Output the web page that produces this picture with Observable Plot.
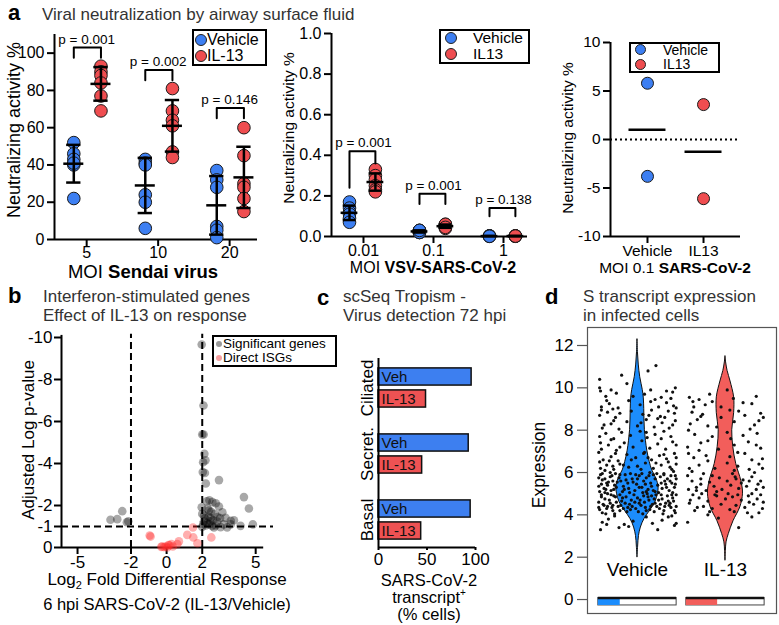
<!DOCTYPE html>
<html><head><meta charset="utf-8">
<script src="https://cdn.jsdelivr.net/npm/d3@7"></script>
<script src="https://cdn.jsdelivr.net/npm/@observablehq/plot@0.6"></script>
<style>
body{margin:0;background:#fff;}
#fig{position:relative;width:779px;height:625px;overflow:hidden;font-family:"Liberation Sans",Arial,Helvetica,sans-serif;color:#000;background:#fff;}
.t{position:absolute;white-space:nowrap;line-height:1;}
.legend{position:absolute;border:2px solid #000;background:#fff;box-sizing:border-box;}
.legend .dot{position:absolute;border-radius:50%;box-sizing:border-box;}
.legend .lab{position:absolute;white-space:nowrap;line-height:1;transform:translateY(-50%);}
</style></head><body><div id="fig"></div>
<script>
// ---------- DATA ----------
// Panel a (left): Sendai virus
const sendaiMOI = ["5", "10", "20"];
const sendaiVehicle = [[52, 46, 43, 40, 41, 22], [43, 41, 40, 24, 20, 6], [37, 32, 28, 7, 5, 1]];
const sendaiIL13 = [[93, 90, 88, 84, 77, 69], [81, 69, 64, 61, 47, 44], [60, 45, 30, 28, 22, 15]];
const sendaiP = ["p = 0.001", "p = 0.002", "p = 0.146"];
const sendaiBracketTop = [103, 91, 70.5];
const sendaiBracketLegs = [[97.5, 97.5], [85.5, 85.5], [65, 65]];

// Panel a (middle): VSV-SARS-CoV-2
const vsvMOI = ["0.01", "0.1", "1"];
const vsvVehicle = [[0.17, 0.14, 0.12, 0.11, 0.09, 0.07], [0.03, 0.02, 0.02, 0.03, 0.02, 0.03], [0.003, 0.002, 0.001, 0.002, 0.003, 0.001]];
const vsvIL13 = [[0.33, 0.30, 0.28, 0.25, 0.23, 0.22], [0.06, 0.05, 0.04, 0.05, 0.06, 0.045], [0.002, 0.003, 0.001, 0.002, 0.003, 0.002]];
const vsvP = ["p = 0.001", "p = 0.001", "p = 0.138"];
const vsvBracketTop = [0.42, 0.21, 0.14];
const vsvBracketLegs = [[0.24, 0.36], [0.16, 0.16], [0.10, 0.10]];

// Panel a (right): SARS-CoV-2
const covGroups = ["Vehicle", "IL13"];
const covValues = [[5.8, -3.8], [3.6, -6.1]];

// Panel b: volcano [log2 fold differential response, adjusted log p]
const significantGenes = [
  [-3.15, -1.32], [-2.77, -1.35], [-2.49, -1.73], [-2.23, -1.2], [-2.15, -1.25],
  [1.97, -9.67], [2.07, -6.76], [2.0, -5.38], [2.08, -5.38], [2.12, -4.46], [2.05, -4.06], [2.18, -4.15],
  [2.03, -3.59], [2.15, -3.55], [2.2, -3.05], [2.94, -3.21],
  [1.97, -1.92], [2.1, -1.52], [2.38, -1.76], [2.57, -2.16], [2.76, -2.11], [2.94, -1.95], [3.13, -1.68],
  [3.31, -1.41], [3.6, -1.27], [3.78, -1.3], [2.66, -0.95], [3.03, -0.97], [3.4, -0.96], [2.0, -0.98],
  [2.28, -1.16], [2.47, -1.4], [2.85, -1.24], [2.05, -1.1], [2.2, -1.05], [2.4, -1.1], [2.55, -1.02],
  [2.75, -1.05], [2.1, -1.25], [2.45, -1.25], [3.0, -1.4], [2.3, -1.85], [2.5, -1.7], [2.7, -1.6],
  [2.85, -1.45], [2.15, -1.4], [2.35, -1.45], [2.6, -1.3], [3.2, -1.1], [4.15, -1.03], [4.34, -2.4],
  [4.62, -1.86], [4.84, -1.1], [3.6, -1.1], [2.0, -1.6], [2.25, -2.2], [2.4, -2.25]
];
const directISGs = [
  [-0.9, -0.52], [-0.95, -0.57], [-0.25, -0.05], [-0.15, -0.02], [-0.05, -0.05], [0.04, 0.0],
  [0.15, -0.1], [0.27, -0.16], [0.35, -0.05], [0.6, -0.16], [0.69, -0.29], [1.16, -0.6],
  [1.5, -0.48], [1.48, -0.95], [1.73, -0.2], [2.51, -0.48], [0.1, -0.12], [-0.3, -0.03]
];

// Panel c: tropism
const cellTypes = ["Ciliated", "Secret.", "Basal"];
const tropismVeh = [96, 93, 95];
const tropismIL13 = [49, 45, 44];
const tropismLabels = ["Veh", "IL-13"];

// Panel d: violin
const dGroups = ["Vehicle", "IL-13"];
const vehicleDensity = [[2.0, 0], [2.5, 0.03], [3.0, 0.07], [3.4, 0.16], [3.8, 0.33], [4.2, 0.6], [4.6, 0.85], [5.0, 0.97], [5.3, 1.0], [5.7, 0.9], [6.1, 0.7], [6.5, 0.58], [7.0, 0.47], [7.5, 0.4], [8.0, 0.35], [8.5, 0.33], [9.0, 0.32], [9.5, 0.3], [9.9, 0.25], [10.5, 0.13], [11.1, 0.06], [11.7, 0.02], [12.3, 0]];
const il13Density = [[1.85, 0], [2.3, 0.02], [2.7, 0.05], [3.1, 0.16], [3.7, 0.38], [4.35, 0.7], [5.0, 0.83], [5.6, 0.75], [6.4, 0.51], [7.2, 0.37], [8.0, 0.32], [8.8, 0.41], [9.55, 0.41], [10.3, 0.24], [10.8, 0.1], [11.2, 0.03], [11.5, 0]];
const vehiclePoints = [
  [-0.42,3.3],[0.23,3.3],[0.44,3.6],[-0.21,3.4],[-0.05,3.7],[0.1,3.9],[-0.33,3.8],[0.35,3.9],[-0.15,3.55],
  [-0.40,4.1],[-0.35,4.3],[-0.28,4.2],[-0.22,4.4],[-0.12,4.15],[-0.02,4.3],[0.06,4.05],[0.14,4.25],[0.22,4.4],[0.3,4.2],[0.38,4.35],[0.43,4.1],
  [-0.44,4.6],[-0.37,4.75],[-0.31,4.55],[-0.25,4.85],[-0.18,4.65],[-0.09,4.5],[0.0,4.8],[0.08,4.6],[0.16,4.9],[0.24,4.7],[0.32,4.55],[0.40,4.8],
  [-0.41,4.95],[-0.34,5.0],[-0.27,4.9],[-0.2,4.95],[-0.13,4.85],[-0.04,4.95],[0.03,4.7],[0.11,5.0],[0.19,4.75],[0.27,4.95],[0.35,4.65],[0.44,4.95],
  [-0.38,4.45],[-0.29,4.35],[-0.06,4.4],[0.09,4.35],[0.26,4.5],[0.36,4.45],[-0.16,4.3],[0.19,4.15],
  [-0.43,5.1],[-0.36,5.2],[-0.30,5.15],[-0.24,5.3],[-0.17,5.1],[-0.1,5.25],[-0.03,5.15],[0.05,5.3],[0.12,5.2],[0.2,5.1],[0.28,5.25],[0.36,5.15],[0.42,5.3],
  [-0.41,5.45],[-0.33,5.55],[-0.26,5.4],[-0.19,5.6],[-0.11,5.5],[-0.01,5.45],[0.07,5.6],[0.15,5.5],[0.23,5.4],[0.31,5.6],[0.39,5.5],
  [-0.44,5.75],[-0.37,5.7],[-0.29,5.85],[-0.21,5.75],[-0.14,5.9],[-0.06,5.7],[0.02,5.85],[0.1,5.75],[0.18,5.9],[0.26,5.8],[0.34,5.7],[0.43,5.85],
  [-0.4,5.95],[-0.31,6.0],[-0.08,5.95],[0.14,6.0],[0.3,5.95],[0.41,6.05],
  [-0.42,6.2],[-0.35,6.35],[-0.27,6.15],[-0.2,6.4],[-0.1,6.25],[0.0,6.3],[0.09,6.45],[0.18,6.2],[0.27,6.35],[0.37,6.25],[0.44,6.4],
  [-0.39,6.6],[-0.3,6.75],[-0.22,6.55],[-0.12,6.85],[-0.02,6.7],[0.07,6.9],[0.16,6.6],[0.25,6.8],[0.33,6.65],[0.42,6.9],[-0.44,6.95],
  [-0.41,7.1],[-0.33,7.3],[-0.24,7.05],[-0.15,7.4],[-0.05,7.2],[0.05,7.5],[0.14,7.15],[0.23,7.35],[0.32,7.1],[0.4,7.45],
  [-0.43,7.7],[-0.36,7.85],[-0.27,7.6],[-0.18,7.9],[-0.08,7.75],[0.03,7.95],[0.11,7.65],[0.2,7.8],[0.3,7.95],[0.38,7.7],
  [-0.4,8.1],[-0.3,8.3],[-0.21,8.05],[-0.12,8.4],[0.0,8.2],[0.1,8.5],[0.19,8.15],[0.28,8.35],[0.36,8.1],[0.43,8.45],
  [-0.43,8.7],[-0.34,8.85],[-0.25,8.6],[-0.07,8.9],[0.06,8.75],[0.16,8.95],[0.26,8.65],[0.35,8.9],[0.42,8.8],
  [-0.41,9.1],[-0.32,9.25],[-0.22,9.05],[-0.1,9.4],[0.03,9.2],[0.15,9.35],[0.24,9.1],[0.33,9.3],[0.41,9.15],
  [-0.36,9.6],[-0.24,9.75],[0.08,9.7],[0.27,9.55],[0.4,9.8],
  [-0.43,10.4],[-0.43,10.0],[0.43,10.0],[-0.12,10.2],[-0.18,10.6],[0.12,10.8],[0.21,11.05],
  [-0.43,4.25],[-0.39,4.5],[-0.36,4.05],[-0.32,4.7],[-0.28,4.45],[-0.24,4.6],[-0.2,4.2],[-0.17,4.8],[-0.14,4.55],[-0.11,4.35],[-0.07,4.7],[-0.03,4.6],[0.01,4.15],[0.04,4.45],[0.07,4.9],[0.1,4.2],[0.13,4.7],[0.17,4.5],[0.21,4.95],[0.25,4.3],[0.28,4.75],[0.31,4.4],[0.34,4.9],[0.37,4.55],[0.41,4.65],[0.44,4.4],[-0.41,4.85],[-0.34,4.4],[-0.26,4.05],[-0.19,4.45],[-0.08,4.25],[0.02,4.55],[0.12,4.85],[0.2,4.55],[0.29,4.05],[0.39,4.95],[-0.44,4.35],[-0.3,4.95],[0.15,4.4],[0.42,4.2],
  [-0.44,5.35],[-0.4,5.65],[-0.37,5.05],[-0.34,5.4],[-0.31,5.8],[-0.27,5.2],[-0.23,5.55],[-0.2,5.9],[-0.16,5.35],[-0.13,5.65],[-0.09,5.05],[-0.05,5.55],[-0.02,5.9],[0.02,5.3],[0.06,5.05],[0.09,5.45],[0.13,5.85],[0.16,5.35],[0.2,5.7],[0.24,5.05],[0.27,5.5],[0.3,5.9],[0.33,5.3],[0.37,5.6],[0.4,5.05],[0.43,5.45],[-0.42,5.9],[-0.35,5.5],[-0.25,5.95],[-0.15,5.2],[0.0,5.7],[0.1,5.1],[0.22,5.95],[0.32,5.45],[0.44,5.7],[-0.38,5.25],[-0.28,5.6],[0.05,5.95],[0.18,5.15],[0.38,5.85],
  [-0.43,6.5],[-0.37,6.1],[-0.32,6.55],[-0.25,6.9],[-0.16,6.35],[-0.07,6.6],[0.04,6.15],[0.12,6.7],[0.21,6.45],[0.3,6.85],[0.39,6.15],[0.44,6.7],[-0.28,6.3],[0.08,6.95],[0.35,6.5],
  [-0.42,7.4],[-0.3,7.55],[-0.2,7.2],[0.1,7.9],[0.27,7.6],[0.44,7.3],[-0.38,8.25],[-0.27,8.45],[0.04,8.35],[0.23,8.55],[0.4,8.25],[-0.41,8.95],[-0.2,8.8],[0.13,8.7],[0.31,8.6],[-0.35,9.4],[-0.28,9.0],[0.2,9.45],[0.38,9.5],[0.44,9.05],[-0.42,9.85],[-0.3,9.9],[0.15,9.9],[0.33,9.85],[-0.05,9.6],
  [-0.4,3.65],[0.42,3.5],[-0.26,3.95],[0.28,3.75],[-0.1,3.45],[0.17,3.6],[0.39,3.95],[-0.35,3.55]
];
const il13Points = [
  [-0.43,3.65],[0.15,3.4],[0.3,3.9],[-0.2,4.0],[0.38,4.1],
  [-0.35,4.2],[-0.25,4.4],[-0.15,4.3],[-0.05,4.5],[0.05,4.25],[0.12,4.45],[0.22,4.35],[0.32,4.5],[0.42,4.3],
  [-0.4,4.7],[-0.3,4.8],[-0.2,4.65],[-0.1,4.9],[0.0,4.75],[0.08,4.85],[0.18,4.7],[0.26,4.9],[0.36,4.75],
  [-0.37,4.95],[-0.27,5.0],[-0.12,4.95],[0.03,5.0],[0.14,4.95],[0.3,5.0],
  [-0.42,5.2],[-0.33,5.3],[-0.22,5.15],[-0.13,5.35],[-0.04,5.2],[0.06,5.4],[0.15,5.25],[0.24,5.35],[0.35,5.2],[0.43,5.3],
  [-0.38,5.6],[-0.28,5.7],[-0.18,5.55],[-0.07,5.75],[0.02,5.6],[0.11,5.8],[0.2,5.65],[0.3,5.8],[0.4,5.6],
  [-0.25,5.95],[0.08,5.95],[0.33,6.0],
  [-0.41,6.2],[-0.3,6.35],[-0.12,6.2],[0.02,6.45],[0.14,6.3],[0.27,6.15],[0.38,6.4],[-0.36,6.7],[-0.22,6.8],[0.05,6.75],[0.22,6.9],[0.42,6.65],
  [-0.43,7.2],[-0.28,7.4],[-0.08,7.1],[0.1,7.3],[0.26,7.45],[0.4,7.15],[-0.35,7.8],[-0.15,7.7],[0.02,7.9],[0.2,7.75],[0.36,7.85],
  [-0.4,8.3],[-0.32,8.5],[-0.2,8.2],[-0.05,8.6],[0.1,8.4],[0.22,8.7],[0.33,8.25],[0.43,8.6],[-0.38,8.85],[-0.26,8.75],[0.15,8.9],[0.4,8.8],
  [-0.37,9.35],[-0.3,9.45],[-0.23,9.2],[-0.05,9.1],[0.09,9.5],[0.3,9.25],[-0.18,9.7],[0.02,9.9],
  [-0.41,4.55],[-0.32,4.35],[-0.18,4.15],[0.1,4.15],[0.27,4.6],[0.4,4.95],[-0.28,5.45],[-0.1,5.1],[0.18,5.5],[0.37,5.45],[-0.43,5.85],[-0.15,5.85],[0.27,5.6],[-0.38,6.05],[0.1,6.1],[0.42,6.2],[-0.2,6.55],[0.3,6.6],[-0.42,6.9],[0.14,6.95],[-0.3,7.05],[0.35,7.3],[-0.2,7.5],[0.06,7.6],[-0.42,8.0],[0.28,8.05],[-0.1,8.15],[0.38,8.45],[-0.36,9.1],[0.2,9.3],[0.35,9.6],[-0.41,9.55],[-0.28,8.65],[0.05,8.95],[-0.15,9.35],[0.25,4.1],[-0.08,3.85],[0.43,4.6],[-0.33,5.15],[0.12,5.7]
];
const dInfectedFraction = [0.28, 0.40];

// ---------- STYLE ----------
const FONT = '"Liberation Sans", Arial, Helvetica, sans-serif';
const BLUE = "#3d7ff2", RED = "#ef4d50";
const BAR_BLUE = "#3d7ff0", BAR_RED = "#ee5253";
const VIO_BLUE = "#1c8dfd", VIO_RED = "#f25e5b";
const fig = document.getElementById("fig");
const st = (fs) => ({fontFamily: FONT, fontSize: fs + "px", color: "#000", background: "transparent", overflow: "visible"});
function place(svg, left, top) {
  svg.style.position = "absolute"; svg.style.left = left + "px"; svg.style.top = top + "px";
  fig.appendChild(svg);
}
function T(html, x, y, o = {}) {
  const d = document.createElement("div");
  d.className = "t"; d.innerHTML = html;
  d.style.left = x + "px"; d.style.top = y + "px";
  d.style.fontSize = (o.size || 16) + "px";
  if (o.weight) d.style.fontWeight = o.weight;
  d.style.color = o.color || "#000";
  const ax = o.anchor === "middle" ? "-50%" : o.anchor === "end" ? "-100%" : "0";
  d.style.transform = o.rotate ? `translate(-50%,-50%) rotate(${o.rotate}deg)` : `translate(${ax},-50%)`;
  fig.appendChild(d);
}
function legend(x, y, w, h, items, o) {
  const b = document.createElement("div");
  b.className = "legend";
  Object.assign(b.style, {left: x + "px", top: y + "px", width: w + "px", height: h + "px", borderWidth: (o.border || 2) + "px"});
  const bw = o.border || 2;
  items.forEach((it, i) => {
    const dot = document.createElement("div");
    dot.className = "dot";
    Object.assign(dot.style, {width: o.dia + "px", height: o.dia + "px", left: (o.dotX - x - bw - o.dia / 2) + "px", top: (o.rows[i] - y - bw - o.dia / 2) + "px", background: it.color, border: o.dotStroke ? "1px solid #222" : "none"});
    b.appendChild(dot);
    const lab = document.createElement("div");
    lab.className = "lab"; lab.textContent = it.label;
    Object.assign(lab.style, {left: (o.textX - x - bw) + "px", top: (o.rows[i] - y - bw) + "px", fontSize: o.size + "px"});
    b.appendChild(lab);
  });
  fig.appendChild(b);
}

// ---------- PANEL a (grouped scatter) ----------
function grouped(cfg) {
  const pts = [], stats = [], br = [], pl = [];
  cfg.labels.forEach((lab, g) => {
    [[cfg.veh, cfg.offV, "v"], [cfg.il, cfg.offI, "i"]].forEach(([arr, o, c]) => {
      const vals = arr[g];
      vals.forEach(v => pts.push({x: g + o, y: v, c}));
      stats.push({x: g + o, mean: d3.mean(vals), sd: d3.deviation(vals)});
    });
    const [l, r] = cfg.legs[g];
    br.push({id: g, x: g + cfg.offV, y: l}, {id: g, x: g + cfg.offV, y: cfg.top[g]},
            {id: g, x: g + cfg.offI, y: cfg.top[g]}, {id: g, x: g + cfg.offI, y: r});
    pl.push({x: g, y: cfg.top[g], text: cfg.p[g]});
  });
  return Plot.plot({
    width: cfg.width, height: cfg.height, marginLeft: cfg.mL, marginRight: cfg.mR, marginTop: cfg.mT, marginBottom: cfg.mB,
    style: st(16),
    x: {domain: cfg.xd}, y: {domain: cfg.yd},
    marks: [
      Plot.ruleY([cfg.yd[0]], {strokeWidth: 2}),
      Plot.ruleX([cfg.xd[0]], {strokeWidth: 2}),
      Plot.axisY({ticks: cfg.yticks, tickFormat: cfg.yfmt, tickSize: 7, tickPadding: 3, strokeWidth: 2, label: null}),
      Plot.axisX({ticks: cfg.labels.map((d, i) => i), tickFormat: i => cfg.labels[i], tickSize: 7, tickPadding: cfg.tp, strokeWidth: 2, label: null}),
      Plot.dot(pts.filter(d => d.c === "v"), {x: "x", y: "y", r: 6.3, fill: BLUE, stroke: "#1a1a1a", strokeWidth: 1}),
      Plot.dot(pts.filter(d => d.c === "i"), {x: "x", y: "y", r: 6.3, fill: RED, stroke: "#1a1a1a", strokeWidth: 1}),
      Plot.ruleX(stats, {x: "x", y1: d => d.mean - d.sd, y2: d => d.mean + d.sd, strokeWidth: 2.5}),
      Plot.ruleY(stats, {y: "mean", x1: d => d.x - cfg.mw, x2: d => d.x + cfg.mw, strokeWidth: 2.5}),
      Plot.ruleY(stats, {y: d => d.mean + d.sd, x1: d => d.x - cfg.cw, x2: d => d.x + cfg.cw, strokeWidth: 2.5}),
      Plot.ruleY(stats, {y: d => d.mean - d.sd, x1: d => d.x - cfg.cw, x2: d => d.x + cfg.cw, strokeWidth: 2.5}),
      Plot.line(br, {x: "x", y: "y", z: "id", strokeWidth: 2}),
      Plot.text(pl, {x: "x", y: "y", text: "text", dy: -4, lineAnchor: "bottom", fontSize: 13.5})
    ]
  });
}

place(grouped({
  labels: sendaiMOI, veh: sendaiVehicle, il: sendaiIL13, p: sendaiP, top: sendaiBracketTop, legs: sendaiBracketLegs,
  offV: -0.18, offI: 0.2, mw: 0.14, cw: 0.1, tp: 0,
  width: 265, height: 290, mL: 54, mR: 8, mT: 34, mB: 51,
  xd: [-0.45, 2.39], yd: [0, 110], yticks: [0, 20, 40, 60, 80, 100], yfmt: d => String(d)
}), 0, 0);

place(grouped({
  labels: vsvMOI, veh: vsvVehicle, il: vsvIL13, p: vsvP, top: vsvBracketTop, legs: vsvBracketLegs,
  offV: -0.2, offI: 0.17, mw: 0.12, cw: 0.09, tp: 1,
  width: 265, height: 290, mL: 61, mR: 8, mT: 33, mB: 54,
  xd: [-0.457, 2.343], yd: [0, 1], yticks: [0, 0.2, 0.4, 0.6, 0.8, 1.0], yfmt: d => d.toFixed(1)
}), 270, 0);

// a right
{
  const pts = [], means = [];
  covGroups.forEach((g, i) => {
    covValues[i].forEach(v => pts.push({x: i, y: v, g: i}));
    means.push({x: i, m: d3.mean(covValues[i])});
  });
  place(Plot.plot({
    width: 239, height: 290, marginLeft: 70, marginRight: 39, marginTop: 42, marginBottom: 54,
    style: st(15.5),
    x: {domain: [-0.66, 1.66]}, y: {domain: [-10, 10]},
    marks: [
      Plot.ruleY([0], {strokeWidth: 1.8, strokeDasharray: "2,3"}),
      Plot.ruleY([-10], {strokeWidth: 2}),
      Plot.ruleX([-0.66], {strokeWidth: 2}),
      Plot.axisY({ticks: [-10, -5, 0, 5, 10], tickFormat: d => String(d), tickSize: 7, tickPadding: 3, strokeWidth: 2, label: null}),
      Plot.axisX({ticks: [0, 1], tickFormat: i => covGroups[i], tickSize: 7, tickPadding: 1, strokeWidth: 2, label: null}),
      Plot.dot(pts.filter(d => d.g === 0), {x: "x", y: "y", r: 6, fill: BLUE, stroke: "#1a1a1a", strokeWidth: 1}),
      Plot.dot(pts.filter(d => d.g === 1), {x: "x", y: "y", r: 6, fill: RED, stroke: "#1a1a1a", strokeWidth: 1}),
      Plot.ruleY(means, {y: "m", x1: d => d.x - 0.33, x2: d => d.x + 0.33, strokeWidth: 2.5})
    ]
  }), 540, 0);
}

// ---------- PANEL b ----------
place(Plot.plot({
  width: 300, height: 300, marginLeft: 61, marginRight: 27, marginTop: 47, marginBottom: 43,
  style: st(17),
  x: {domain: [-5.9, 6.0]}, y: {domain: [0, -10]},
  marks: [
    Plot.ruleX([-2, 2], {y1: 0, y2: -10.15, strokeWidth: 2, strokeDasharray: "7,4"}),
    Plot.ruleY([-1], {strokeWidth: 2, strokeDasharray: "7,4"}),
    Plot.ruleX([-5.9], {y1: 0, y2: -10.1, strokeWidth: 2}),
    Plot.ruleY([0], {x1: -5.9, x2: 5.45, strokeWidth: 2}),
    Plot.axisY({ticks: [-10, -8, -6, -4, -2, -1, 0], tickFormat: d => String(d), tickSize: 7, tickPadding: 2, strokeWidth: 2, label: null}),
    Plot.axisX({ticks: [-5, -2, 0, 2, 5], tickFormat: d => String(d), tickSize: 7, tickPadding: 1, strokeWidth: 2, label: null}),
    Plot.dot(significantGenes, {x: d => d[0], y: d => d[1], r: 4.3, fill: "#000", fillOpacity: 0.34}),
    Plot.dot(directISGs, {x: d => d[0], y: d => d[1], r: 4.3, fill: "#ff2a2a", fillOpacity: 0.38})
  ]
}), 0, 290);

// ---------- PANEL c ----------
{
  const rows = [];
  cellTypes.forEach((c, g) => {
    rows.push({p: g * 3, v: tropismVeh[g], lab: tropismLabels[0], k: 0});
    rows.push({p: g * 3 + 1, v: tropismIL13[g], lab: tropismLabels[1], k: 1});
  });
  place(Plot.plot({
    width: 190, height: 300, marginLeft: 78, marginRight: 15, marginTop: 68, marginBottom: 43,
    style: st(17),
    x: {domain: [0, 100]}, y: {domain: [-0.84, 7.75], range: [68, 257], axis: null},
    marks: [
      Plot.rect(rows.filter(d => d.k === 0), {x1: 0, x2: "v", y1: d => d.p - 0.39, y2: d => d.p + 0.39, fill: BAR_BLUE, stroke: "#111", strokeWidth: 1.5}),
      Plot.rect(rows.filter(d => d.k === 1), {x1: 0, x2: "v", y1: d => d.p - 0.39, y2: d => d.p + 0.39, fill: BAR_RED, stroke: "#111", strokeWidth: 1.5}),
      Plot.text(rows, {x: 0, y: "p", text: "lab", dx: 3, textAnchor: "start", fontSize: 15, fill: "#111"}),
      Plot.ruleX([0], {strokeWidth: 2}),
      Plot.ruleY([7.75], {x1: 0, x2: 100, strokeWidth: 2}),
      Plot.axisX({ticks: [0, 50, 100], tickSize: 3, tickPadding: 2, strokeWidth: 2, label: null}),
      Plot.text(cellTypes, {x: 0, y: (d, i) => i * 3 + 0.5, text: d => d, rotate: -90, dx: -11, fontSize: 17})
    ]
  }), 300, 290);
}

// ---------- PANEL d ----------
{
  const W = 0.24;
  const bars = dGroups.map((g, i) => ({g: i, f: dInfectedFraction[i]}));
  place(Plot.plot({
    width: 289, height: 335, marginLeft: 97, marginRight: 3, marginTop: 37, marginBottom: 12,
    style: st(17),
    x: {domain: [-0.568, 1.58], axis: null}, y: {domain: [-0.66, 12.85]},
    marks: [
      Plot.frame({stroke: "#555", strokeWidth: 1.2}),
      Plot.axisY({ticks: [0, 2, 4, 6, 8, 10, 12], tickFormat: d => String(d), tickSize: 10, tickPadding: 4, stroke: "#555", strokeWidth: 1.2, label: null}),
      Plot.areaX(vehicleDensity, {y: d => d[0], x1: d => 0 - d[1] * W, x2: d => 0 + d[1] * W, fill: VIO_BLUE, stroke: "#111", strokeWidth: 1, curve: "catmull-rom"}),
      Plot.areaX(il13Density, {y: d => d[0], x1: d => 1 - d[1] * W, x2: d => 1 + d[1] * W, fill: VIO_RED, stroke: "#111", strokeWidth: 1, curve: "catmull-rom"}),
      Plot.dot(vehiclePoints, {x: d => 0 + d[0], y: d => d[1], r: 1.6, fill: "#111"}),
      Plot.dot(il13Points, {x: d => 1 + d[0], y: d => d[1], r: 1.6, fill: "#111"}),
      Plot.rect(bars, {x1: d => d.g - 0.445, x2: d => d.g + 0.445, y1: -0.28, y2: 0.07, fill: "#fff", stroke: "#444", strokeWidth: 1}),
      Plot.rect(bars, {x1: d => d.g - 0.445, x2: d => d.g - 0.445 + d.f * 0.89, y1: -0.28, y2: 0.07, fill: d => d.g === 0 ? VIO_BLUE : VIO_RED}),
      Plot.ruleY(bars, {y: 0.07, x1: d => d.g - 0.445, x2: d => d.g + 0.445, stroke: "#111", strokeWidth: 2.5}),
      Plot.text(dGroups, {x: (d, i) => i, frameAnchor: "bottom", dy: -38, text: d => d, fontSize: 19})
    ]
  }), 490, 290);
}

// ---------- TEXT ----------
const TC = "#333";
T("a", 8, 13, {size: 22, weight: "bold"});
T("Viral neutralization by airway surface fluid", 42, 14, {size: 17, color: TC});
T("Neutralizing activity %", 14, 130, {size: 18, rotate: -90});
T("MOI <b>Sendai virus</b>", 143, 272, {size: 18.5, anchor: "middle"});
T("Neutralizing activity %", 289, 128, {size: 15.5, rotate: -90});
T("MOI <b>VSV-SARS-CoV-2</b>", 433, 268, {size: 16, anchor: "middle"});
T("Neutralizing activity %", 568, 138, {size: 15.5, rotate: -90});
T("MOI 0.1 <b>SARS-CoV-2</b>", 675, 268, {size: 15.5, anchor: "middle"});

T("b", 8, 296, {size: 22, weight: "bold"});
T("Interferon-stimulated genes", 43, 296, {size: 17, color: TC});
T("Effect of IL-13 on response", 43, 315, {size: 17, color: TC});
T("Adjusted Log p-value", 28, 440, {size: 17, rotate: -90});
T("Log<sub style='font-size:11px'>2</sub> Fold Differential Response", 167, 581, {size: 17, anchor: "middle"});
T("6 hpi SARS-CoV-2 (IL-13/Vehicle)", 167, 604, {size: 16.5, anchor: "middle"});

T("c", 317, 298, {size: 22, weight: "bold"});
T("scSeq Tropism -", 343, 296, {size: 17, color: TC});
T("Virus detection 72 hpi", 343, 315, {size: 17, color: TC});
T("SARS-CoV-2", 429, 580, {size: 16.5, anchor: "middle"});
T("transcript<sup style='font-size:10px;line-height:0'>+</sup>", 429, 597, {size: 16.5, anchor: "middle"});
T("(% cells)", 429, 614, {size: 16.5, anchor: "middle"});

T("d", 545, 297, {size: 22, weight: "bold"});
T("S transcript expression", 583, 296, {size: 17, color: TC});
T("in infected cells", 583, 315, {size: 17, color: TC});
T("Expression", 540, 465, {size: 17.5, rotate: -90});

// ---------- LEGENDS ----------
legend(192, 29, 75, 37, [{color: BLUE, label: "Vehicle"}, {color: RED, label: "IL-13"}], {dia: 12.5, dotX: 201, textX: 207, rows: [40, 56], size: 16, dotStroke: true});
legend(439, 29, 91, 35, [{color: BLUE, label: "Vehicle"}, {color: RED, label: "IL13"}], {dia: 12.5, dotX: 451, textX: 473, rows: [38, 54], size: 15.5, dotStroke: true});
legend(629, 42, 91, 31, [{color: BLUE, label: "Vehicle"}, {color: RED, label: "IL13"}], {dia: 11, dotX: 640, textX: 663, rows: [49.5, 64], size: 14, dotStroke: true});
legend(212, 335, 125, 32, [{color: "#999", label: "Significant genes"}, {color: "#f7a0a0", label: "Direct ISGs"}], {dia: 6, dotX: 219, textX: 223, rows: [343.5, 358], size: 13.5});
</script></body></html>
